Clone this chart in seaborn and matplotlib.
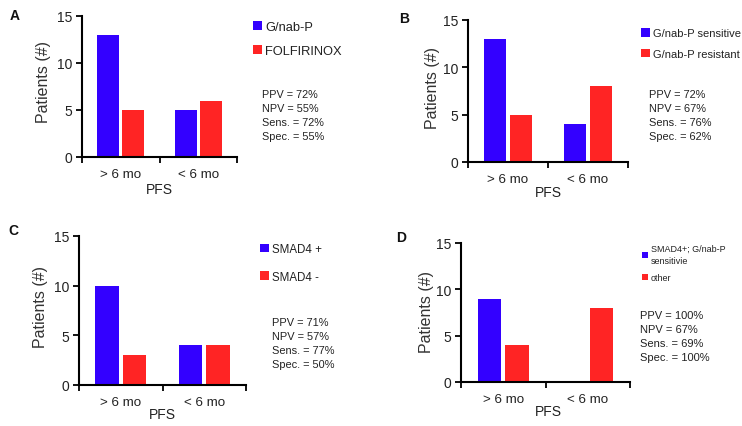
import matplotlib
matplotlib.use("Agg")
import matplotlib.pyplot as plt
from matplotlib.patches import Patch
from matplotlib.ticker import FixedLocator
import seaborn as sns
import pandas as pd

# ---------------- data ----------------
categories = ["> 6 mo", "< 6 mo"]

A_labels = ["G/nab-P", "FOLFIRINOX"]
A_blue = [13, 5]
A_red = [5, 6]
A_stats = ["PPV = 72%", "NPV = 55%", "Sens. = 72%", "Spec. = 55%"]

B_labels = ["G/nab-P sensitive", "G/nab-P resistant"]
B_blue = [13, 4]
B_red = [5, 8]
B_stats = ["PPV = 72%", "NPV = 67%", "Sens. = 76%", "Spec. = 62%"]

C_labels = ["SMAD4 +", "SMAD4 -"]
C_blue = [10, 4]
C_red = [3, 4]
C_stats = ["PPV = 71%", "NPV = 57%", "Sens. = 77%", "Spec. = 50%"]

D_labels = ["SMAD4+; G/nab-P\nsensitivie", "other"]
D_blue = [9, 0]
D_red = [4, 8]
D_stats = ["PPV = 100%", "NPV = 67%", "Sens. = 69%", "Spec. = 100%"]

yticks = [0, 5, 10, 15]
panel_letters = ["A", "B", "C", "D"]

BLUE = "#3300FF"
RED = "#FF2424"

# ---------------- layout ----------------
W, H = 742, 427
sns.set_theme(style="white")
plt.rcParams["font.family"] = ["Liberation Sans", "DejaVu Sans"]

fig = plt.figure(figsize=(W / 100, H / 100), dpi=100)
fig.patch.set_facecolor("white")


def fx(x):
    return x / W


def fy(y):
    return 1 - y / H


panels = [
    dict(labels=A_labels, blue=A_blue, red=A_red, stats=A_stats,
         box=(82, 237, 17, 158), letter=(15, 16), leg=(253, 22), leg_fs=9.3, leg_sp=0.9,
         hl=0.7, stats_xy=(262, 95), stats_fs=7.8, ylab=(43, 82), xlab=(159, 190)),
    dict(labels=B_labels, blue=B_blue, red=B_red, stats=B_stats,
         box=(468, 628, 21, 163), letter=(404, 19), leg=(641, 29), leg_fs=8.0, leg_sp=0.95,
         hl=0.8, stats_xy=(649, 95), stats_fs=7.9, ylab=(432, 88), xlab=(548, 193)),
    dict(labels=C_labels, blue=C_blue, red=C_red, stats=C_stats,
         box=(79, 246, 237, 386), letter=(13, 231), leg=(260, 244), leg_fs=8.3, leg_sp=1.35,
         hl=0.8, stats_xy=(272, 323), stats_fs=7.9, ylab=(41, 307), xlab=(162, 415)),
    dict(labels=D_labels, blue=D_blue, red=D_red, stats=D_stats,
         box=(461, 630, 244, 383), letter=(401, 238), leg=(642, 245), leg_fs=6.5, leg_sp=0.85,
         hl=0.7, stats_xy=(640, 316), stats_fs=8.0, ylab=(427, 312), xlab=(548, 412)),
]

for letter, p in zip(panel_letters, panels):
    l, r, t, b = p["box"]
    ax = fig.add_axes([fx(l), fy(b), (r - l) / W, (b - t) / H])
    df = pd.DataFrame({
        "PFS": categories * 2,
        "count": p["blue"] + p["red"],
        "group": [p["labels"][0]] * 2 + [p["labels"][1]] * 2,
    })
    sns.barplot(data=df, x="PFS", y="count", hue="group", order=categories,
                hue_order=p["labels"], palette=[BLUE, RED], saturation=1,
                width=0.65, gap=0.13, errorbar=None, legend=False, ax=ax,
                linewidth=0)
    ax.set_xlim(-0.5, 1.5)
    ax.set_ylim(0, 15)
    ax.set_yticks(yticks)
    ax.set_yticklabels([str(v) for v in yticks], fontsize=10, color="#222222")
    ax.set_xticks(range(len(categories)))
    ax.set_xticklabels(categories, fontsize=9.6, color="#222222")
    ax.xaxis.set_minor_locator(FixedLocator([-0.5, 0.5, 1.5]))
    ax.tick_params(axis="x", which="major", length=0, pad=8)
    ax.tick_params(axis="x", which="minor", length=4, width=1.3, direction="out",
                   color="black", bottom=True)
    ax.tick_params(axis="y", which="major", length=4, width=1.3, direction="out",
                   color="black", left=True, pad=3)
    for s in ["top", "right"]:
        ax.spines[s].set_visible(False)
    for s in ["left", "bottom"]:
        ax.spines[s].set_linewidth(1.5)
        ax.spines[s].set_color("black")
    ax.set_facecolor("white")
    ax.grid(False)

    # axis labels
    ax.set_ylabel("Patients (#)", fontsize=11.5, color="#333333")
    yx, yy = p["ylab"]
    ax.yaxis.set_label_coords((yx - l) / (r - l), (b - yy) / (b - t))
    ax.set_xlabel("PFS", fontsize=10, color="#222222")
    xx, xy = p["xlab"]
    ax.xaxis.set_label_coords((xx - l) / (r - l), (b - xy) / (b - t))
    ax.xaxis.label.set_va("center")
    ax.yaxis.label.set_va("center")

    # panel letter
    lx, ly = p["letter"]
    fig.text(fx(lx), fy(ly), letter, fontsize=10, fontweight="bold",
             ha="center", va="center", color="#111111")

    # legend
    handles = [Patch(facecolor=BLUE, edgecolor="none"), Patch(facecolor=RED, edgecolor="none")]
    gx, gy = p["leg"]
    leg = ax.legend(handles, p["labels"], loc="upper left", bbox_to_anchor=(fx(gx), fy(gy)),
                    bbox_transform=fig.transFigure, frameon=False, fontsize=p["leg_fs"],
                    handlelength=p["hl"], handleheight=p["hl"], handletextpad=0.25,
                    labelspacing=p["leg_sp"], borderpad=0, borderaxespad=0)
    for txt in leg.get_texts():
        txt.set_linespacing(1.5)
        txt.set_color("#222222")

    # statistics text
    sx, sy = p["stats_xy"]
    for i, line in enumerate(p["stats"]):
        fig.text(fx(sx), fy(sy + i * 14), line, fontsize=p["stats_fs"], ha="left",
                 va="center", color="#222222")

fig.savefig("out.png", dpi=100, facecolor="white")
